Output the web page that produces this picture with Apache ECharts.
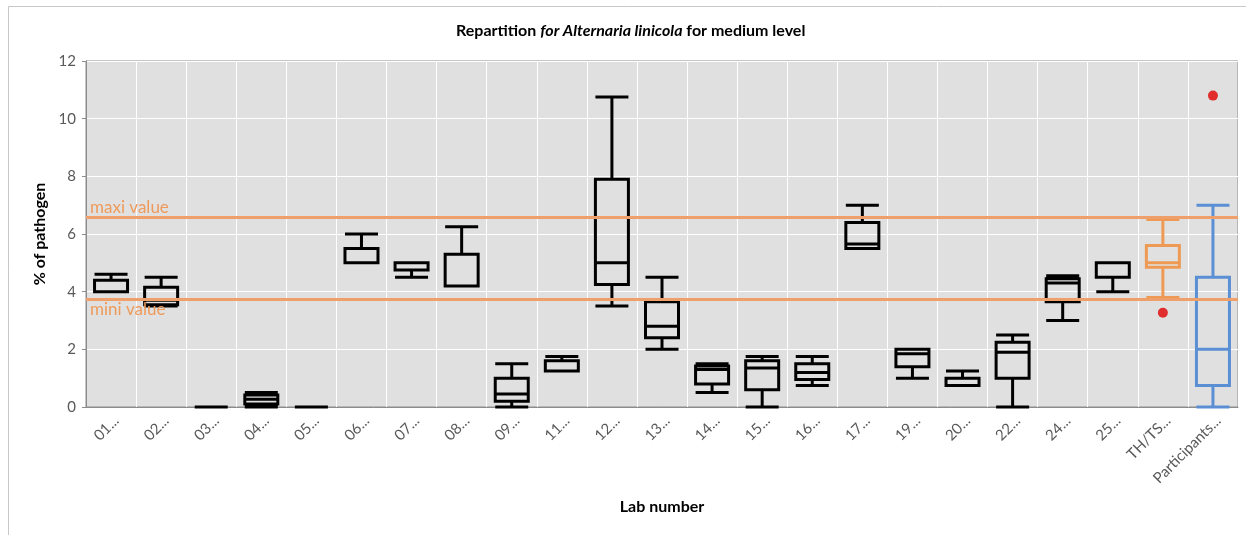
<!DOCTYPE html>
<html>
<head>
<meta charset="utf-8">
<script src="https://cdn.jsdelivr.net/npm/echarts@6/dist/echarts.min.js"></script>
<style>
html,body{margin:0;padding:0;background:#fff;}
#chart{width:1246px;height:535px;}
</style>
</head>
<body>
<div id="chart"></div>
<script>
// ---- data ----
var categories = ['01...','02...','03...','04...','05...','06...','07...','08...','09...','11...','12...','13...','14...','15...','16...','17...','19...','20...','22...','24...','25...','TH/TS...','Participants...'];
var mins    = [4.0, 3.5,  0, 0,    0, 5.0, 4.5,  4.2, 0,    1.25, 3.5,   2.0,  0.5,  0,    0.75, 5.5,  1.0,  0.75, 0,    3.0,  4.0, 3.8,  0];
var q1s     = [4.0, 3.55, 0, 0.1,  0, 5.0, 4.75, 4.2, 0.2,  1.25, 4.25,  2.4,  0.8,  0.6,  0.95, 5.5,  1.4,  0.75, 1.0,  3.65, 4.5, 4.85, 0.75];
var medians = [4.0, 3.7,  0, 0.27, 0, 5.0, 4.75, 4.2, 0.45, 1.25, 5.0,   2.8,  1.3,  1.35, 1.2,  5.65, 1.85, 0.75, 1.9,  4.3,  4.5, 5.0,  2.0];
var q3s     = [4.4, 4.15, 0, 0.42, 0, 5.5, 5.0,  5.3, 1.0,  1.6,  7.9,   3.65, 1.42, 1.6,  1.5,  6.4,  2.0,  1.0,  2.25, 4.45, 5.0, 5.6,  4.5];
var maxs    = [4.6, 4.5,  0, 0.5,  0, 6.0, 5.0,  6.25, 1.5, 1.75, 10.75, 4.5,  1.5,  1.75, 1.75, 7.0,  2.0,  1.25, 2.5,  4.55, 5.0, 6.5,  7.0];
var outlierCats   = ['TH/TS...', 'Participants...'];
var outlierValues = [3.27, 10.8];
var maxiValue = 6.57;
var miniValue = 3.75;
var yTicks = [0, 2, 4, 6, 8, 10, 12];

// ---- styles ----
var FONT = 'Lato';
var boxColors = {'TH/TS...': '#EE9A55', 'Participants...': '#5B8FD3'};

var boxData = categories.map(function (c, i) {
  var col = boxColors[c] || '#000000';
  return {
    value: [mins[i], q1s[i], medians[i], q3s[i], maxs[i]],
    itemStyle: {color: 'rgba(0,0,0,0)', borderColor: col, borderWidth: 3}
  };
});
var outlierData = outlierCats.map(function (c, i) { return [c, outlierValues[i]]; });

var chart = echarts.init(document.getElementById('chart'), null, {renderer: 'canvas'});
chart.setOption({
  animation: false,
  backgroundColor: '#ffffff',
  title: {
    text: '{b|Repartition }{i|for Alternaria linicola}{b| for medium level}',
    left: 456,
    top: 23,
    padding: 0,
    textStyle: {
      rich: {
        b: {fontFamily: FONT, fontSize: 16, fontWeight: 'bold', color: '#000'},
        i: {fontFamily: FONT, fontSize: 16, fontWeight: 'bold', fontStyle: 'italic', color: '#000'}
      }
    }
  },
  graphic: [
    {type: 'line', shape: {x1: 8.5, y1: 6.5, x2: 1246, y2: 6.5}, style: {stroke: '#c8c8c8', lineWidth: 1}, silent: true},
    {type: 'line', shape: {x1: 8.5, y1: 6.5, x2: 8.5, y2: 535}, style: {stroke: '#c8c8c8', lineWidth: 1}, silent: true}
  ],
  grid: {
    left: 86, right: 8, top: 61, bottom: 128,
    show: true, backgroundColor: '#e0e0e0', borderColor: '#8c8c8c', borderWidth: 1
  },
  xAxis: {
    type: 'category',
    data: categories,
    boundaryGap: true,
    name: 'Lab number',
    nameLocation: 'middle',
    nameGap: 92,
    nameTextStyle: {fontFamily: FONT, fontSize: 16, fontWeight: 'bold', color: '#000'},
    axisLine: {lineStyle: {color: '#8c8c8c', width: 1}},
    axisTick: {show: false},
    axisLabel: {interval: 0, rotate: 45, fontFamily: FONT, fontSize: 15, color: '#595959', margin: 6, verticalAlign: 'top'},
    splitLine: {show: true, interval: 0, lineStyle: {color: '#ffffff', width: 1}}
  },
  yAxis: {
    type: 'value',
    min: yTicks[0], max: yTicks[yTicks.length - 1], interval: 2,
    name: '% of pathogen',
    nameLocation: 'middle',
    nameGap: 35,
    nameTextStyle: {fontFamily: FONT, fontSize: 16, fontWeight: 'bold', color: '#000'},
    axisLine: {show: true, lineStyle: {color: '#8c8c8c', width: 1}},
    axisTick: {show: true, length: 4, lineStyle: {color: '#8c8c8c'}},
    axisLabel: {fontFamily: FONT, fontSize: 15, color: '#595959', margin: 10},
    splitLine: {show: true, lineStyle: {color: '#ffffff', width: 1}}
  },
  series: [
    {
      type: 'boxplot',
      data: boxData,
      boxWidth: [33, 33],
      z: 3,
      emphasis: {disabled: true},
      markLine: {
        silent: true,
        symbol: 'none',
        lineStyle: {color: '#EFA06A', width: 3, type: 'solid'},
        data: [
          {yAxis: maxiValue, name: 'maxi value', label: {position: 'insideStartTop', formatter: 'maxi value'}},
          {yAxis: miniValue, name: 'mini value', label: {position: 'insideStartBottom', formatter: 'mini value'}}
        ],
        label: {fontFamily: FONT, fontSize: 17, color: '#EE9A5A', distance: [4, 2]}
      }
    },
    {
      type: 'scatter',
      data: outlierData,
      symbol: 'circle',
      symbolSize: 10,
      z: 5,
      itemStyle: {color: '#E00000'}
    }
  ]
});
</script>
</body>
</html>
